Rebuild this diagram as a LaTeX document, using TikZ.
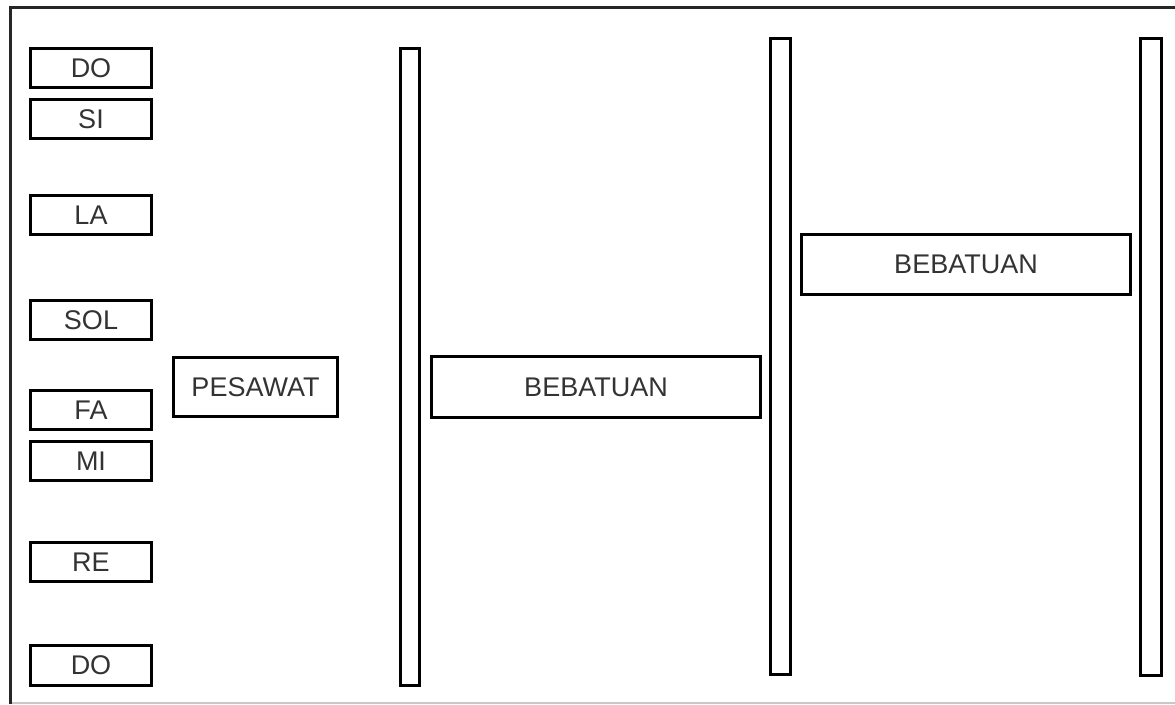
\documentclass[tikz,border=0pt]{standalone}
\usepackage{fontspec}
\setmainfont{Liberation Sans}
\usetikzlibrary{positioning}
\definecolor{inkgray}{RGB}{51,51,51}
\definecolor{framegray}{RGB}{200,200,200}

\begin{document}
\begin{tikzpicture}[
      x=1pt, y=-1pt,
      note/.style={rectangle, draw=black, line width=3pt, fill=white,
                   minimum width=121.5pt, minimum height=39.5pt, inner sep=0pt,
                   text=inkgray, font=\fontsize{27}{30}\selectfont},
      bar/.style={rectangle, draw=black, line width=3pt, fill=white,
                  minimum width=19.5pt, minimum height=636.5pt, inner sep=0pt},
      block/.style={rectangle, draw=black, line width=3pt, fill=white,
                    minimum width=329.5pt, minimum height=60.5pt, inner sep=0pt,
                    text=inkgray, font=\fontsize{27}{30}\selectfont}
    ]
    \useasboundingbox (0,0) rectangle (1175,704);
    % --- outer frame (cut at the right) ---
    \draw[framegray, line width=1.5pt] (10,703) -- (1175,703);
    \draw[black!85, line width=3pt] (1175,7) -- (10,7) -- (10,703.5);

    % --- notes ---
    \node[note] (do1) at (91,68) {DO};
    \node[note] (si)  at (91,119) {SI};
    \node[note] (la)  at (91,215) {LA};
    \node[note] (sol) at (91,320) {SOL};
    \node[note] (fa)  at (91,410) {FA};
    \node[note] (mi)  at (91,461) {MI};
    \node[note] (re)  at (91,562) {RE};
    \node[note] (do2) at (91,665.5) {DO};

    % --- plane and walls ---
    \node[block, minimum width=163.5pt, minimum height=58.5pt] (plane) at (255.5,387) {PESAWAT};
    \node[bar] (wall1) at (410,367) {};
    \node[block] (rock1) at (596,387) {BEBATUAN};
    \node[bar] (wall2) at (780.5,356.5) {};
    \node[block] (rock2) at (966,264.5) {BEBATUAN};
    \node[bar, minimum width=21pt] (wall3) at (1151,357) {};
  \end{tikzpicture}
\end{document}
